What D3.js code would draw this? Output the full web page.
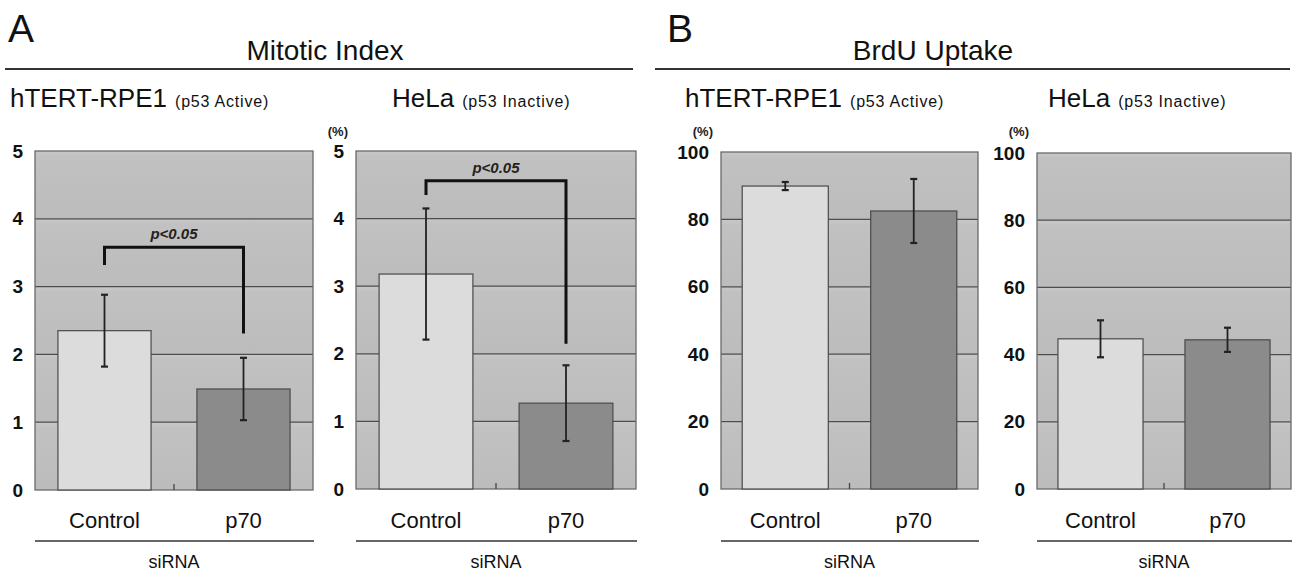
<!DOCTYPE html>
<html>
<head>
<meta charset="utf-8">
<script src="https://cdn.jsdelivr.net/npm/d3@7"></script>
<style>
  body { margin: 0; background: #fff; }
  svg { display: block; font-family: "Liberation Sans", Arial, sans-serif; }
  .tick text { font-size: 19px; font-weight: bold; fill: #111; }
</style>
</head>
<body>
<div id="chart"></div>
<script>
// values
var categories = ["Control", "p70"];
var mitoticTicks = [0, 1, 2, 3, 4, 5];
var brduTicks = [0, 20, 40, 60, 80, 100];

var mitoticRpeMean = [2.35, 1.49];
var mitoticRpeErr = [0.53, 0.46];
var mitoticHelaMean = [3.18, 1.27];
var mitoticHelaErr = [0.97, 0.56];
var brduRpeMean = [89.9, 82.5];
var brduRpeErr = [1.2, 9.5];
var brduHelaMean = [44.7, 44.4];
var brduHelaErr = [5.5, 3.6];

// significance brackets: [left leg end, top, right leg end]
var mitoticRpeBracket = [3.32, 3.58, 2.31];
var mitoticHelaBracket = [4.35, 4.56, 2.15];

var svgWidth = 1295, svgHeight = 575;

var svg = d3.select("#chart").append("svg")
  .attr("width", svgWidth)
  .attr("height", svgHeight);

// gradient for the shaded bands of the plot area
var defs = svg.append("defs");
var grad = defs.append("linearGradient")
  .attr("id", "band").attr("x1", 0).attr("x2", 0).attr("y1", 0).attr("y2", 1);
grad.append("stop").attr("offset", "0%").attr("stop-color", "#c8c8c8");
grad.append("stop").attr("offset", "8%").attr("stop-color", "#c1c1c1");
grad.append("stop").attr("offset", "100%").attr("stop-color", "#bcbcbc");

var panels = [
  { x0: 35, x1: 313, y0: 151, y1: 490, ticks: mitoticTicks, mean: mitoticRpeMean, err: mitoticRpeErr,
    bracket: mitoticRpeBracket, pct: false, line: "hTERT-RPE1", sub: "(p53 Active)", titleX: 10 },
  { x0: 356, x1: 636, y0: 151, y1: 489, ticks: mitoticTicks, mean: mitoticHelaMean, err: mitoticHelaErr,
    bracket: mitoticHelaBracket, pct: true, line: "HeLa", sub: "(p53 Inactive)", titleX: 392 },
  { x0: 721, x1: 978, y0: 152, y1: 489, ticks: brduTicks, mean: brduRpeMean, err: brduRpeErr,
    bracket: null, pct: true, line: "hTERT-RPE1", sub: "(p53 Active)", titleX: 685 },
  { x0: 1037, x1: 1291, y0: 153, y1: 489, ticks: brduTicks, mean: brduHelaMean, err: brduHelaErr,
    bracket: null, pct: true, line: "HeLa", sub: "(p53 Inactive)", titleX: 1048 }
];

var barFill = ["#dcdcdc", "#8b8b8b"];

panels.forEach(function(p) {
  var g = svg.append("g");

  var x = d3.scaleBand()
    .domain(categories)
    .range([p.x0, p.x1])
    .paddingInner(0.33)
    .paddingOuter(0.165);

  var y = d3.scaleLinear()
    .domain([0, d3.max(p.ticks)])
    .range([p.y1, p.y0]);

  // plot background bands
  g.selectAll("rect.band").data(p.ticks.slice(1)).enter()
    .append("rect")
    .attr("class", "band")
    .attr("x", p.x0)
    .attr("width", p.x1 - p.x0)
    .attr("y", d => y(d))
    .attr("height", (d, i) => y(p.ticks[i]) - y(d))
    .attr("fill", "url(#band)");

  // gridlines
  g.selectAll("line.grid").data(p.ticks.slice(1, -1)).enter()
    .append("line")
    .attr("x1", p.x0).attr("x2", p.x1)
    .attr("y1", d => y(d)).attr("y2", d => y(d))
    .attr("stroke", "#4d4d4d").attr("stroke-width", 1.3);

  // frame
  g.append("rect")
    .attr("x", p.x0).attr("y", p.y0)
    .attr("width", p.x1 - p.x0).attr("height", p.y1 - p.y0)
    .attr("fill", "none").attr("stroke", "#6a6a6a").attr("stroke-width", 1.3);

  // middle tick on the category axis
  var mid = (x(categories[0]) + x.bandwidth() + x(categories[1])) / 2;
  g.append("line")
    .attr("x1", mid).attr("x2", mid)
    .attr("y1", p.y1).attr("y2", p.y1 - 6)
    .attr("stroke", "#444").attr("stroke-width", 1.3);

  // bars
  g.selectAll("rect.bar").data(p.mean).enter()
    .append("rect")
    .attr("class", "bar")
    .attr("x", (d, i) => x(categories[i]))
    .attr("width", x.bandwidth())
    .attr("y", d => y(d))
    .attr("height", d => y(0) - y(d))
    .attr("fill", (d, i) => barFill[i])
    .attr("stroke", "#4a4a4a").attr("stroke-width", 1.2);

  // error bars
  p.mean.forEach(function(m, i) {
    var cx = x(categories[i]) + x.bandwidth() / 2;
    var hi = y(m + p.err[i]), lo = y(m - p.err[i]);
    g.append("line").attr("x1", cx).attr("x2", cx).attr("y1", hi).attr("y2", lo)
      .attr("stroke", "#222").attr("stroke-width", 1.8);
    [hi, lo].forEach(function(yy) {
      g.append("line").attr("x1", cx - 3.5).attr("x2", cx + 3.5).attr("y1", yy).attr("y2", yy)
        .attr("stroke", "#222").attr("stroke-width", 2.2);
    });
  });

  // significance bracket
  if (p.bracket) {
    var bx0 = x(categories[0]) + x.bandwidth() / 2;
    var bx1 = x(categories[1]) + x.bandwidth() / 2;
    g.append("path")
      .attr("d", "M" + bx0 + "," + y(p.bracket[0]) + "V" + y(p.bracket[1]) +
                 "H" + bx1 + "V" + y(p.bracket[2]))
      .attr("fill", "none").attr("stroke", "#111").attr("stroke-width", 3);
    g.append("text")
      .attr("x", (bx0 + bx1) / 2)
      .attr("y", y(p.bracket[1]) - 8)
      .attr("text-anchor", "middle")
      .style("font-size", "15px").style("font-style", "italic").style("font-weight", "bold")
      .style("fill", "#222")
      .text("p<0.05");
  }

  // y axis labels
  var axis = g.append("g")
    .attr("transform", `translate(${p.x0 - 12}, 0)`)
    .call(d3.axisLeft(y).tickValues(p.ticks).tickFormat(d3.format("d")).tickSize(0).tickPadding(0));
  axis.select(".domain").remove();

  if (p.pct) {
    g.append("text")
      .attr("x", p.x0 - 8).attr("y", 136)
      .attr("text-anchor", "end")
      .style("font-size", "13px").style("font-weight", "bold").style("fill", "#222")
      .text("(%)");
  }

  // cell line title
  var t = g.append("text")
    .attr("x", p.titleX).attr("y", 107)
    .style("fill", "#111");
  t.append("tspan").style("font-size", "26px").text(p.line);
  t.append("tspan").attr("dx", 8).style("font-size", "16px").style("letter-spacing", "0.8px").text(p.sub);

  // category labels
  g.selectAll("text.cat").data(categories).enter()
    .append("text")
    .attr("class", "cat")
    .attr("x", d => x(d) + x.bandwidth() / 2)
    .attr("y", 528)
    .attr("text-anchor", "middle")
    .style("font-size", "22px").style("fill", "#111")
    .text(d => d);

  g.append("line")
    .attr("x1", p.x0).attr("x2", p.x1 + 1)
    .attr("y1", 541).attr("y2", 541)
    .attr("stroke", "#333").attr("stroke-width", 1.5);

  g.append("text")
    .attr("x", (p.x0 + p.x1) / 2).attr("y", 568)
    .attr("text-anchor", "middle")
    .style("font-size", "18px").style("fill", "#111")
    .text("siRNA");
});

// section headers
var headers = [
  { letter: "A", lx: 8, title: "Mitotic Index", tx: 325, l0: 5, l1: 633 },
  { letter: "B", lx: 667, title: "BrdU Uptake", tx: 933, l0: 655, l1: 1290 }
];
headers.forEach(function(h) {
  svg.append("text").attr("x", h.lx).attr("y", 42)
    .style("font-size", "39px").style("fill", "#111").text(h.letter);
  svg.append("text").attr("x", h.tx).attr("y", 60)
    .attr("text-anchor", "middle")
    .style("font-size", "28px").style("fill", "#111").text(h.title);
  svg.append("line").attr("x1", h.l0).attr("x2", h.l1).attr("y1", 69).attr("y2", 69)
    .attr("stroke", "#333").attr("stroke-width", 2);
});
</script>
</body>
</html>
